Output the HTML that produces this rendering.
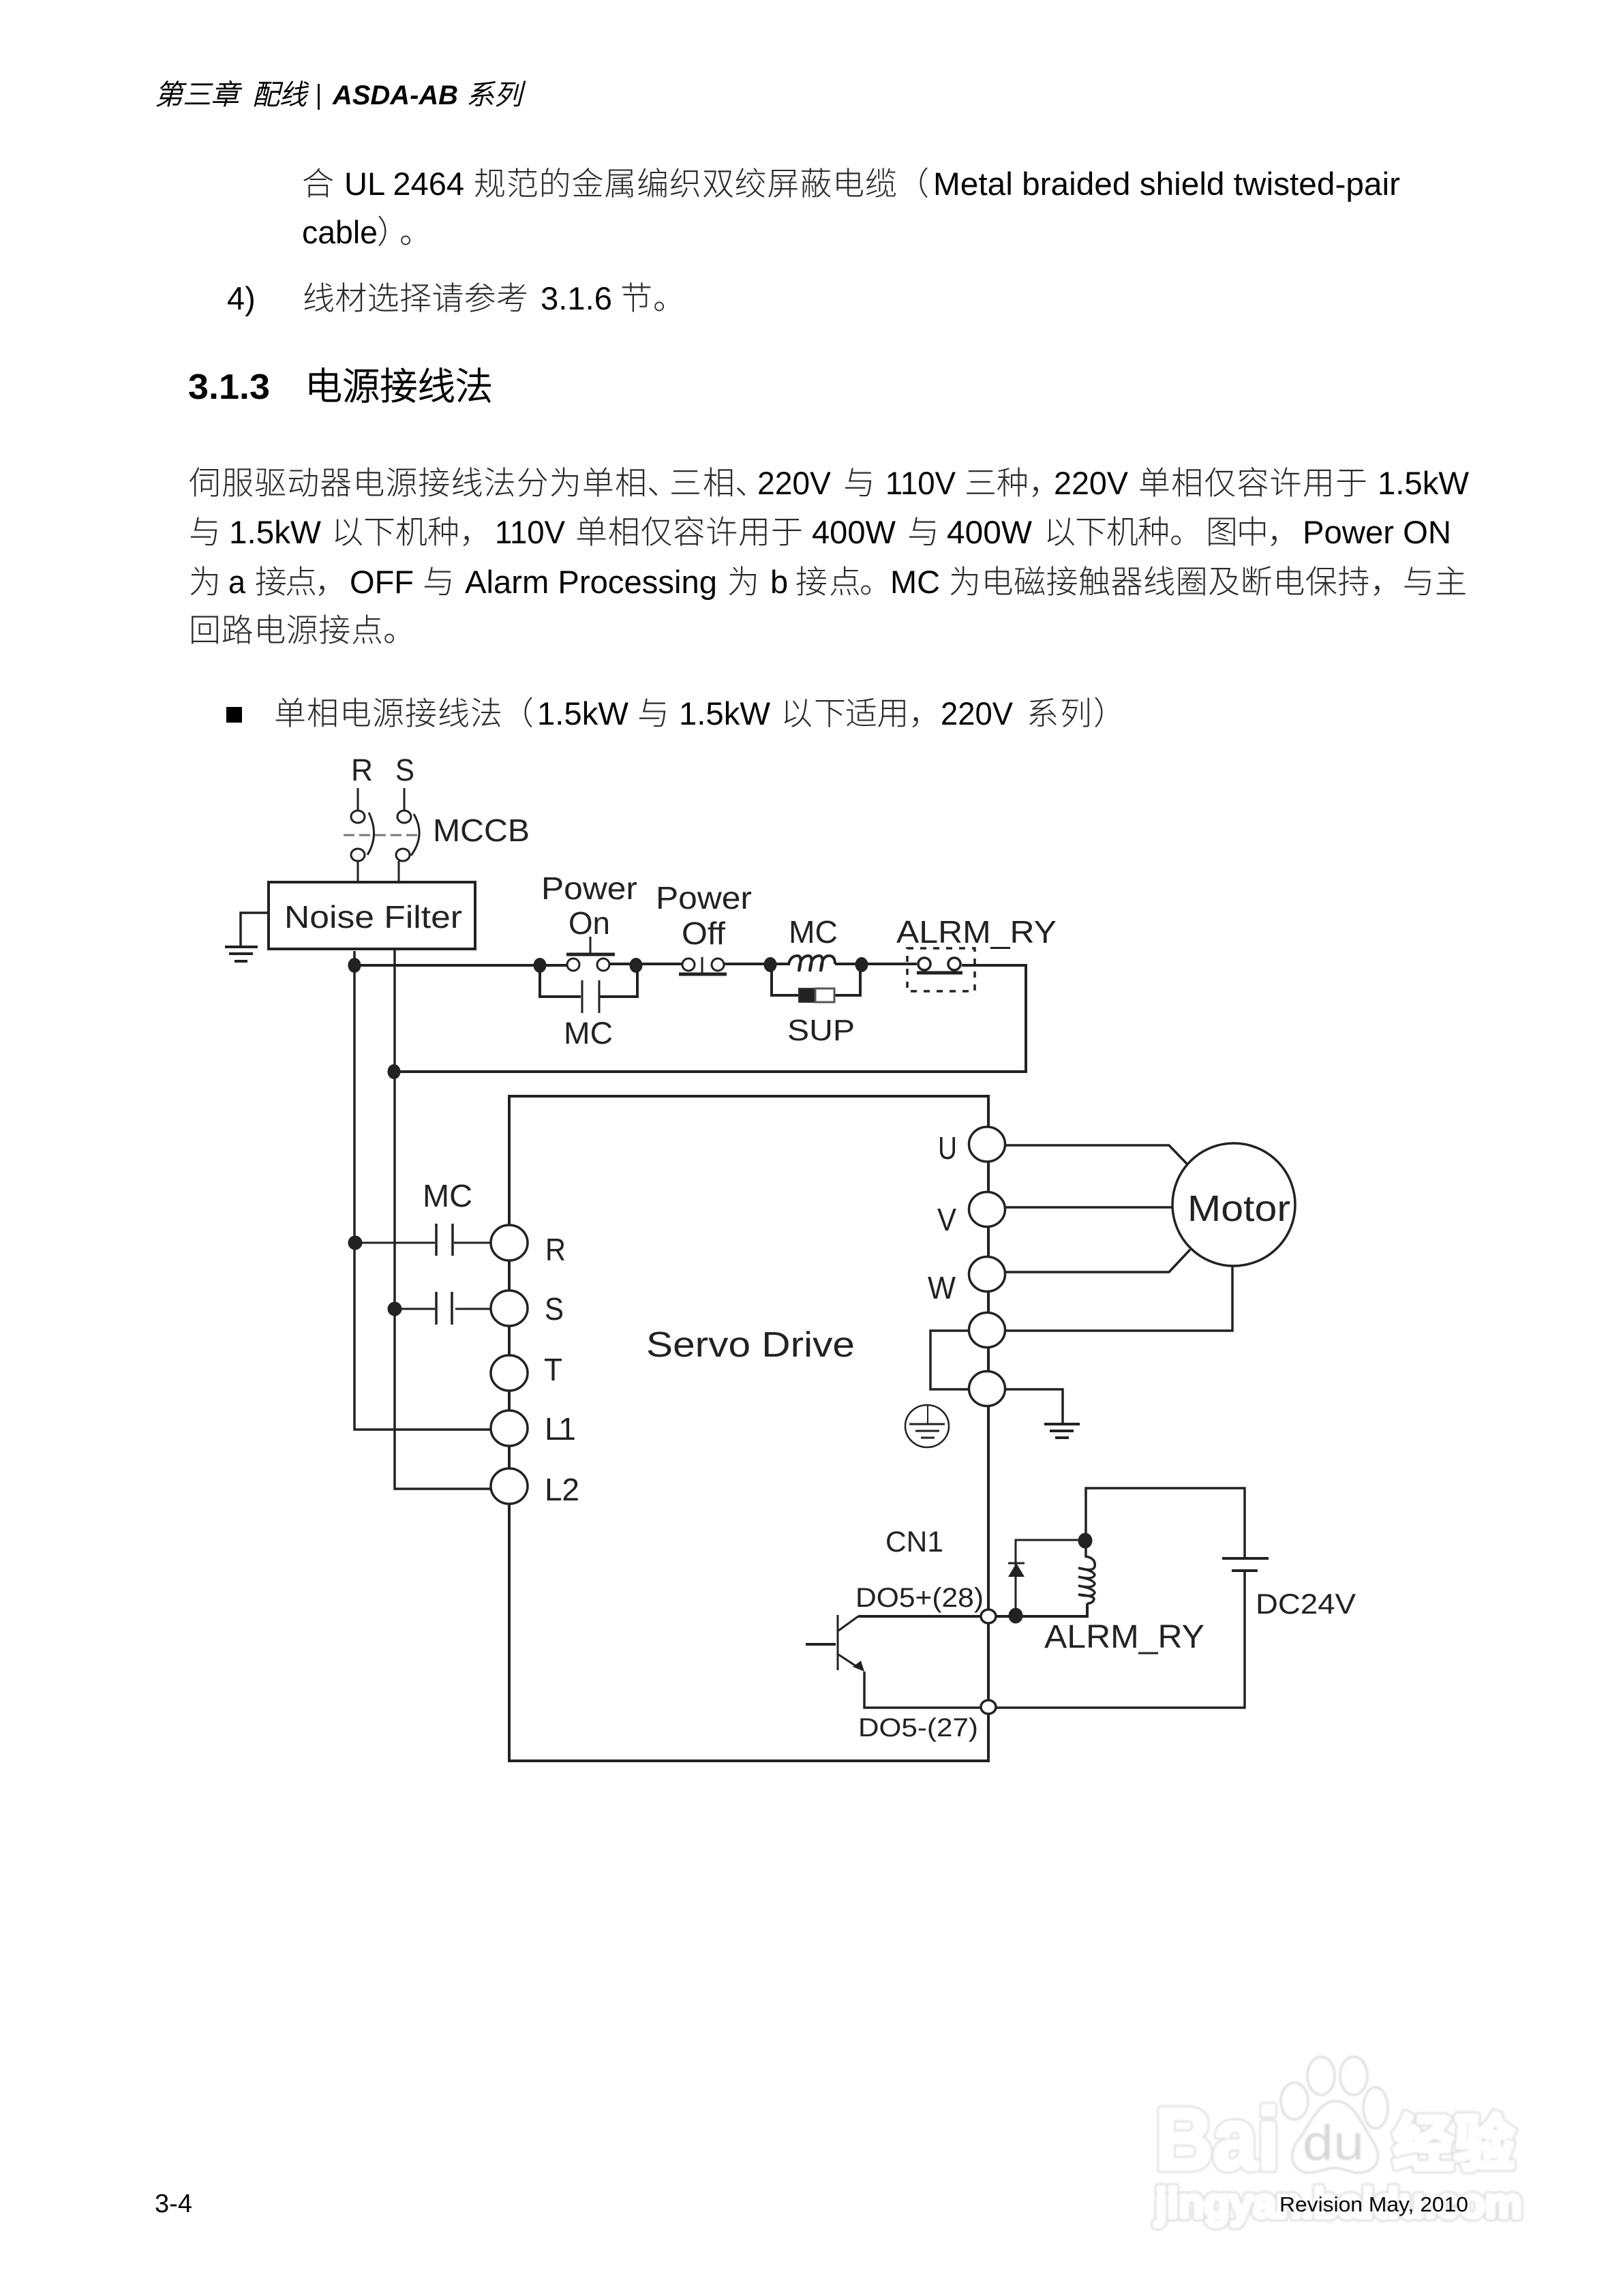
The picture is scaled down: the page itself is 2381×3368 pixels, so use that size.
<!DOCTYPE html>
<html><head><meta charset="utf-8"><style>
html,body{margin:0;padding:0;background:#fff}
svg{display:block}
text{font-family:"Liberation Sans","Noto Sans CJK SC",sans-serif;fill:#050505}
.c{font-family:"Noto Sans CJK SC","Liberation Sans",sans-serif;font-size:47px;fill:#2a2a2a;font-weight:300}
.l{font-size:47px}
.d{fill:#222}
.wo{font-weight:bold;fill:#dedede;stroke:#dedede;stroke-width:11;stroke-linejoin:round}
.wi{font-weight:bold;fill:#fff;stroke:#fff;stroke-width:6;stroke-linejoin:round}
</style></head><body>
<svg xmlns="http://www.w3.org/2000/svg" width="2381" height="3368" viewBox="0 0 2381 3368">
<rect width="2381" height="3368" fill="#fff"/>

<!-- header -->
<g font-style="italic">
<text class="c" x="227" y="153" style="font-size:41px;font-style:italic;fill:#000;stroke:#000;stroke-width:.8" textLength="124" lengthAdjust="spacingAndGlyphs">第三章</text>
<text class="c" x="370" y="153" style="font-size:41px;font-style:italic;fill:#000;stroke:#000;stroke-width:.8" textLength="80" lengthAdjust="spacingAndGlyphs">配线</text>
<rect x="466" y="123" width="3" height="38" fill="#111"/>
<text x="488" y="153" font-size="40" font-weight="bold" textLength="184" lengthAdjust="spacingAndGlyphs">ASDA-AB</text>
<text class="c" x="684" y="153" style="font-size:41px;font-style:italic;fill:#000;stroke:#000;stroke-width:.8" textLength="82" lengthAdjust="spacingAndGlyphs">系列</text>
</g>

<!-- top paragraph -->
<text class="c" x="443" y="286">合</text>
<text class="l" x="505" y="286" textLength="176" lengthAdjust="spacingAndGlyphs">UL 2464</text>
<text class="c" x="695" y="286" textLength="621">规范的金属编织双绞屏蔽电缆</text>
<text class="c" x="1316" y="286">（</text>
<text class="l" x="1369" y="286" textLength="685" lengthAdjust="spacingAndGlyphs">Metal braided shield twisted-pair</text>
<text class="l" x="443" y="357" textLength="111" lengthAdjust="spacingAndGlyphs">cable</text>
<text class="c" x="553" y="357">）</text>
<text class="c" x="586" y="357">。</text>
<text class="l" x="333" y="454">4)</text>
<text class="c" x="444" y="454" textLength="331">线材选择请参考</text>
<text class="l" x="793" y="454" textLength="105" lengthAdjust="spacingAndGlyphs">3.1.6</text>
<text class="c" x="910" y="454">节</text>
<text class="c" x="958" y="454">。</text>

<!-- heading -->
<text x="276" y="585" font-size="52" font-weight="bold" textLength="120" lengthAdjust="spacingAndGlyphs">3.1.3</text>
<text class="c" x="447" y="586" style="font-size:55px;fill:#000;stroke:#000;stroke-width:1.2" textLength="276">电源接线法</text>

<!-- main paragraph line 1 -->
<text class="c" x="277" y="725" textLength="672">伺服驱动器电源接线法分为单相</text>
<text class="c" x="949" y="725">、</text>
<text class="c" x="982" y="725" textLength="96">三相</text>
<text class="c" x="1078" y="725">、</text>
<text class="l" x="1111" y="725" textLength="108" lengthAdjust="spacingAndGlyphs">220V</text>
<text class="c" x="1237" y="725">与</text>
<text class="l" x="1299" y="725" textLength="103" lengthAdjust="spacingAndGlyphs">110V</text>
<text class="c" x="1415" y="725" textLength="94">三种</text>
<text class="c" x="1509" y="725">，</text>
<text class="l" x="1546" y="725" textLength="109" lengthAdjust="spacingAndGlyphs">220V</text>
<text class="c" x="1670" y="725" textLength="336">单相仅容许用于</text>
<text class="l" x="2021" y="725" textLength="134" lengthAdjust="spacingAndGlyphs">1.5kW</text>

<!-- line 2 -->
<text class="c" x="277" y="797">与</text>
<text class="l" x="336" y="797" textLength="135" lengthAdjust="spacingAndGlyphs">1.5kW</text>
<text class="c" x="486" y="797" textLength="235">以下机种，</text>
<text class="l" x="726" y="797" textLength="103" lengthAdjust="spacingAndGlyphs">110V</text>
<text class="c" x="844" y="797" textLength="334">单相仅容许用于</text>
<text class="l" x="1191" y="797" textLength="123" lengthAdjust="spacingAndGlyphs">400W</text>
<text class="c" x="1331" y="797">与</text>
<text class="l" x="1389" y="797" textLength="125" lengthAdjust="spacingAndGlyphs">400W</text>
<text class="c" x="1531" y="797" textLength="185">以下机种</text>
<text class="c" x="1716" y="797">。</text>
<text class="c" x="1769" y="797" textLength="137">图中，</text>
<text class="l" x="1911" y="797" textLength="218" lengthAdjust="spacingAndGlyphs">Power ON</text>

<!-- line 3 -->
<text class="c" x="277" y="870">为</text>
<text class="l" x="335" y="870" textLength="25" lengthAdjust="spacingAndGlyphs">a</text>
<text class="c" x="374" y="870" textLength="135">接点，</text>
<text class="l" x="513" y="870" textLength="94" lengthAdjust="spacingAndGlyphs">OFF</text>
<text class="c" x="620" y="870">与</text>
<text class="l" x="682" y="870" textLength="370" lengthAdjust="spacingAndGlyphs">Alarm Processing</text>
<text class="c" x="1067" y="870">为</text>
<text class="l" x="1130" y="870">b</text>
<text class="c" x="1167" y="870" textLength="96">接点</text>
<text class="c" x="1261" y="870">。</text>
<text class="l" x="1306" y="870" textLength="73" lengthAdjust="spacingAndGlyphs">MC</text>
<text class="c" x="1392" y="870" textLength="760">为电磁接触器线圈及断电保持，与主</text>

<!-- line 4 -->
<text class="c" x="277" y="941" textLength="285">回路电源接点</text>
<text class="c" x="562" y="941">。</text>

<!-- bullet -->
<rect x="332" y="1037" width="23" height="23" fill="#000"/>
<text class="c" x="402" y="1063" textLength="335">单相电源接线法</text>
<text class="c" x="736" y="1063">（</text>
<text class="l" x="788" y="1063" textLength="134" lengthAdjust="spacingAndGlyphs">1.5kW</text>
<text class="c" x="935" y="1063">与</text>
<text class="l" x="996" y="1063" textLength="134" lengthAdjust="spacingAndGlyphs">1.5kW</text>
<text class="c" x="1145" y="1063" textLength="96">以下</text>
<text class="c" x="1240" y="1063" textLength="140">适用，</text>
<text class="l" x="1380" y="1063" textLength="106" lengthAdjust="spacingAndGlyphs">220V</text>
<text class="c" x="1506" y="1063" textLength="96">系列</text>
<text class="c" x="1604" y="1063">）</text>

<!-- diagram wires -->
<g fill="none" stroke="#222" stroke-width="3.5">
<!-- MCCB -->
<path d="M525 1156V1190M593 1156V1190M525 1263V1294M585 1263V1294" stroke-width="3"/>
<ellipse cx="525" cy="1198" rx="10" ry="9" stroke-width="3"/>
<ellipse cx="593" cy="1198" rx="10" ry="9" stroke-width="3"/>
<ellipse cx="525" cy="1254" rx="10" ry="9" stroke-width="3"/>
<ellipse cx="591" cy="1254" rx="10" ry="9" stroke-width="3"/>
<path d="M541 1192Q557 1225 539 1254M607 1194Q625 1225 603 1255" stroke-width="3"/>
<path d="M504 1225H616" stroke="#777" stroke-dasharray="16 7" stroke-width="3"/>
<!-- noise filter -->
<rect x="394" y="1294" width="303" height="98" stroke-width="4"/>
<path d="M394 1339H353V1389"/>
<path d="M330 1389H378M336 1399H371M344 1410H363" stroke-width="4"/>
<!-- main verticals -->
<path d="M520 1395V2097H720"/>
<path d="M579 1392V2184H720"/>
<!-- control line -->
<path d="M520 1416H792" stroke-width="4"/>
<path d="M792 1416H832M895 1414H1000M1063 1414H1159M1225 1414H1345M1411 1416H1505V1572H578" stroke-width="4"/>
<!-- Power on -->
<ellipse cx="841" cy="1415" rx="9" ry="9" stroke-width="3"/>
<ellipse cx="885" cy="1415" rx="9" ry="9" stroke-width="3"/>
<path d="M831 1400H902" stroke-width="5"/>
<path d="M866 1374V1400" stroke-width="3"/>
<!-- Power off -->
<ellipse cx="1010" cy="1415" rx="9" ry="9" stroke-width="3"/>
<ellipse cx="1053" cy="1415" rx="9" ry="9" stroke-width="3"/>
<path d="M1030 1404V1427" stroke-width="3"/>
<path d="M996 1429H1066" stroke-width="5"/>
<!-- MC parallel contact -->
<path d="M792 1416V1462H852M879 1462H935V1416" stroke-width="4"/>
<path d="M854 1438V1486M879 1438V1486" stroke-width="3"/>
<!-- coil -->
<path d="M1157 1414Q1160 1402 1170 1402Q1178 1402 1172 1425Q1173 1402 1186 1402Q1194 1402 1188 1425Q1189 1402 1202 1402Q1210 1402 1204 1425Q1205 1402 1216 1402Q1225 1402 1225 1414" stroke-width="4"/>
<path d="M1132 1415V1460H1171M1224 1460H1262V1415" stroke-width="4"/>
<rect x="1172" y="1450" width="24" height="20" fill="#222" stroke="#333" stroke-width="2"/>
<rect x="1196" y="1450" width="28" height="20" fill="#fff" stroke="#555" stroke-width="3"/>
<!-- alarm contact -->
<ellipse cx="1356" cy="1414" rx="9" ry="9" stroke-width="3.5"/>
<ellipse cx="1400" cy="1414" rx="9" ry="9" stroke-width="3.5"/>
<path d="M1345 1427H1412" stroke-width="5"/>
<rect x="1331" y="1391" width="99" height="63" stroke-width="3.5" stroke-dasharray="9 10"/>

<!-- servo box -->
<path d="M1450 1653V1608H747V2583H1450V1653" stroke-width="4"/>

<!-- contactors -->
<path d="M521 1823H638M666 1823H720M579 1920H638M668 1920H720" stroke-width="3"/>
<path d="M640 1795V1842M664 1795V1842M640 1895V1943M663 1895V1943" stroke-width="3.5"/>

<!-- motor connections -->
<path d="M1474 1680H1715L1741 1707M1474 1771H1719M1474 1866H1715L1746 1833" stroke-width="3.5"/>
<path d="M1474 1952H1808V1857M1421 1952H1365V2038H1421M1474 2038H1559V2089" stroke-width="3.5"/>
<path d="M1532 2089H1584M1540 2099H1575M1548 2109H1568" stroke-width="4"/>
<circle cx="1810" cy="1767" r="90" fill="#fff" stroke-width="3.5"/>
<ellipse cx="1360" cy="2092" rx="32" ry="31" stroke-width="2.5"/>
<path d="M1361 2062V2089" stroke-width="2"/>
<path d="M1334 2089H1386M1343 2099H1378M1351 2109H1371" stroke-width="3"/>

<!-- CN1 side -->
<path d="M1259 2371H1595V2352" stroke-width="4"/>
<path d="M1593 2285V2183H1826V2286M1826 2304V2505H1268V2452" stroke-width="3.5"/>
<path d="M1793 2286H1861M1807 2304H1845" stroke-width="4"/>
<path d="M1593 2259H1490V2370" stroke-width="3"/>
<path d="M1479 2293H1503" stroke-width="3"/>
<path d="M1593 2283Q1608 2286 1606 2298Q1604 2306 1582 2300Q1604 2304 1606 2310Q1604 2318 1582 2313Q1604 2317 1606 2323Q1604 2331 1582 2326Q1604 2330 1606 2336Q1604 2344 1582 2339Q1604 2341 1605 2345Q1604 2352 1595 2352" stroke-width="3.5"/>
<!-- transistor -->
<path d="M1229 2369V2450" stroke-width="3"/>
<path d="M1182 2412H1226" stroke-width="4"/>
<path d="M1230 2392L1259 2371M1230 2427L1262 2448" stroke-width="3"/>
</g>
<polygon points="1479,2313 1503,2313 1491,2293" fill="#222"/>
<polygon points="1268,2452 1263,2436 1251,2445" fill="#222"/>

<!-- terminals -->
<g fill="#fff" stroke="#222" stroke-width="3.5">
<ellipse cx="747" cy="1823" rx="27" ry="26"/>
<ellipse cx="747" cy="1919" rx="27" ry="26"/>
<ellipse cx="747" cy="2014" rx="27" ry="26"/>
<ellipse cx="747" cy="2095" rx="27" ry="26"/>
<ellipse cx="747" cy="2180" rx="27" ry="26"/>
<ellipse cx="1448" cy="1678.5" rx="26.5" ry="25.5"/>
<ellipse cx="1448" cy="1774" rx="26.5" ry="25.5"/>
<ellipse cx="1448" cy="1869" rx="26.5" ry="25.5"/>
<ellipse cx="1448" cy="1951" rx="26.5" ry="25.5"/>
<ellipse cx="1448" cy="2037" rx="26.5" ry="25.5"/>
<ellipse cx="1450" cy="2371" rx="11" ry="10"/>
<ellipse cx="1450" cy="2504" rx="11" ry="10"/>
</g>

<!-- junction dots -->
<g fill="#222">
<ellipse cx="520" cy="1416" rx="9.5" ry="11"/>
<ellipse cx="792" cy="1416" rx="9.5" ry="11"/>
<ellipse cx="933" cy="1416" rx="9.5" ry="11"/>
<ellipse cx="1130" cy="1415" rx="9.5" ry="11"/>
<ellipse cx="1264" cy="1415" rx="9.5" ry="11"/>
<ellipse cx="578" cy="1572" rx="9.5" ry="11"/>
<circle cx="521" cy="1823" r="10.5"/>
<circle cx="579" cy="1920" r="10.5"/>
<ellipse cx="1592" cy="2260" rx="10.5" ry="11.5"/>
<ellipse cx="1490" cy="2370" rx="10.5" ry="11.5"/>
</g>

<!-- diagram labels -->
<g lengthAdjust="spacingAndGlyphs">
<text class="d" x="515" y="1145" font-size="45" textLength="32" lengthAdjust="spacingAndGlyphs">R</text>
<text class="d" x="580" y="1145" font-size="45" textLength="28" lengthAdjust="spacingAndGlyphs">S</text>
<text class="d" x="635" y="1234" font-size="46" textLength="142" lengthAdjust="spacingAndGlyphs">MCCB</text>
<text class="d" x="417" y="1361" font-size="46" textLength="261" lengthAdjust="spacingAndGlyphs">Noise Filter</text>
<text class="d" x="794" y="1319" font-size="46" textLength="141" lengthAdjust="spacingAndGlyphs">Power</text>
<text class="d" x="834" y="1370" font-size="46" textLength="61" lengthAdjust="spacingAndGlyphs">On</text>
<text class="d" x="962" y="1333" font-size="46" textLength="141" lengthAdjust="spacingAndGlyphs">Power</text>
<text class="d" x="1000" y="1385" font-size="46" textLength="64" lengthAdjust="spacingAndGlyphs">Off</text>
<text class="d" x="1157" y="1383" font-size="46" textLength="72" lengthAdjust="spacingAndGlyphs">MC</text>
<text class="d" x="1315" y="1383" font-size="46" textLength="235" lengthAdjust="spacingAndGlyphs">ALRM_RY</text>
<text class="d" x="827" y="1531" font-size="45" textLength="72" lengthAdjust="spacingAndGlyphs">MC</text>
<text class="d" x="1155" y="1526" font-size="44" textLength="99" lengthAdjust="spacingAndGlyphs">SUP</text>
<text class="d" x="620" y="1770" font-size="46" textLength="73" lengthAdjust="spacingAndGlyphs">MC</text>
<text class="d" x="800" y="1849" font-size="46" textLength="30" lengthAdjust="spacingAndGlyphs">R</text>
<text class="d" x="799" y="1936" font-size="46" textLength="28" lengthAdjust="spacingAndGlyphs">S</text>
<text class="d" x="798" y="2025" font-size="46" textLength="27" lengthAdjust="spacingAndGlyphs">T</text>
<text class="d" x="799" y="2112" font-size="46" textLength="46">L1</text>
<text class="d" x="799" y="2201" font-size="46" textLength="51">L2</text>
<text class="d" x="948" y="1990" font-size="52" textLength="306" lengthAdjust="spacingAndGlyphs">Servo Drive</text>
<text class="d" x="1376" y="1700" font-size="46" textLength="28" lengthAdjust="spacingAndGlyphs">U</text>
<text class="d" x="1375" y="1805" font-size="46" textLength="28" lengthAdjust="spacingAndGlyphs">V</text>
<text class="d" x="1361" y="1905" font-size="46" textLength="41" lengthAdjust="spacingAndGlyphs">W</text>
<text class="d" x="1742" y="1791" font-size="54" textLength="151" lengthAdjust="spacingAndGlyphs">Motor</text>
<text class="d" x="1299" y="2276" font-size="43" textLength="85" lengthAdjust="spacingAndGlyphs">CN1</text>
<text class="d" x="1255" y="2357" font-size="40" textLength="188" lengthAdjust="spacingAndGlyphs">DO5+(28)</text>
<text class="d" x="1259" y="2547" font-size="38" textLength="176" lengthAdjust="spacingAndGlyphs">DO5-(27)</text>
<text class="d" x="1532" y="2417" font-size="48" textLength="235" lengthAdjust="spacingAndGlyphs">ALRM_RY</text>
<text class="d" x="1842" y="2367" font-size="42" textLength="147" lengthAdjust="spacingAndGlyphs">DC24V</text>
</g>

<!-- watermark -->
<defs><filter id="b" x="-5%" y="-5%" width="110%" height="110%"><feGaussianBlur stdDeviation="1.2"/></filter></defs>
<g filter="url(#b)">
<text class="wo" x="1695" y="3182" font-size="128" textLength="182" lengthAdjust="spacingAndGlyphs">Bai</text>
<text class="wi" x="1695" y="3182" font-size="128" textLength="182" lengthAdjust="spacingAndGlyphs">Bai</text>
<ellipse cx="1899" cy="3082" rx="20" ry="27" fill="#fff" stroke="#dcdcdc" stroke-width="3"/>
<ellipse cx="1938" cy="3045" rx="20" ry="28" fill="#fff" stroke="#dcdcdc" stroke-width="3"/>
<ellipse cx="1986" cy="3045" rx="20" ry="28" fill="#fff" stroke="#dcdcdc" stroke-width="3"/>
<ellipse cx="2018" cy="3092" rx="18" ry="30" fill="#fff" stroke="#dcdcdc" stroke-width="3"/>
<path d="M1959 3082C1985 3082 1998 3115 2010 3135C2022 3150 2030 3175 2005 3185C1985 3192 1975 3180 1959 3180C1943 3180 1925 3192 1910 3185C1888 3175 1895 3148 1908 3135C1920 3118 1935 3082 1959 3082Z" fill="#fff" stroke="#dcdcdc" stroke-width="3"/>
<text x="1911" y="3168" font-size="72" textLength="90" lengthAdjust="spacingAndGlyphs" style="fill:#d8d8d8">du</text>
<text x="2043" y="3176" class="wo" style="font-family:'Noto Sans CJK SC',sans-serif;font-size:90px" textLength="180" lengthAdjust="spacingAndGlyphs">经验</text>
<text x="2043" y="3176" class="wi" style="font-family:'Noto Sans CJK SC',sans-serif;font-size:90px" textLength="180" lengthAdjust="spacingAndGlyphs">经验</text>
<text class="wo" x="1695" y="3253" font-size="62" textLength="538" lengthAdjust="spacingAndGlyphs">jingyan.baidu.com</text>
<text class="wi" x="1695" y="3253" font-size="62" textLength="538" lengthAdjust="spacingAndGlyphs">jingyan.baidu.com</text>
</g>

<!-- footer -->
<text x="227" y="3245" font-size="38" textLength="55" lengthAdjust="spacingAndGlyphs">3-4</text>
<text x="1877" y="3244" font-size="31" textLength="277" lengthAdjust="spacingAndGlyphs">Revision May, 2010</text>
</svg>
</body></html>
